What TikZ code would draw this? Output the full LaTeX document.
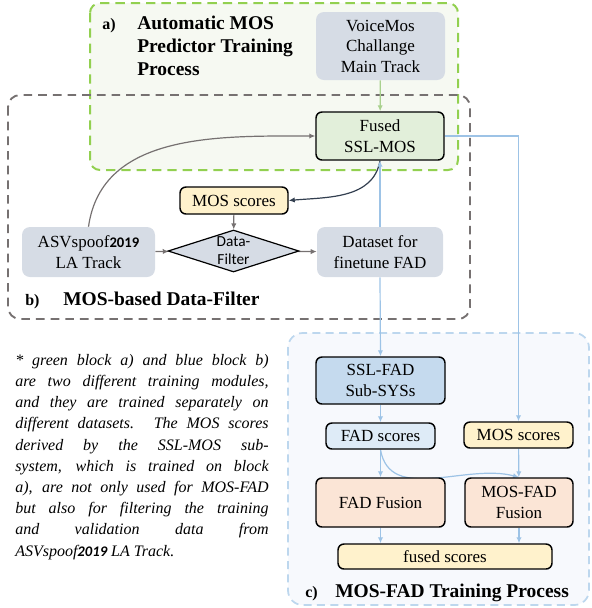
\documentclass[tikz,border=0pt]{standalone}
\usepackage{fontspec}
\setmainfont{Liberation Serif}
\newfontfamily\yearfont{Carlito}
\usetikzlibrary{shapes.geometric,arrows.meta}

\definecolor{greenline}{HTML}{92D050}
\definecolor{greenfill}{HTML}{F6F9F2}
\definecolor{greyline}{HTML}{767171}
\definecolor{blueline}{HTML}{BDD7EE}
\definecolor{bluefill}{HTML}{F7F9FD}
\definecolor{slate}{HTML}{D6DCE5}
\definecolor{mint}{HTML}{E2EFDA}
\definecolor{cream}{HTML}{FFF2CC}
\definecolor{sky}{HTML}{C5DAEE}
\definecolor{icy}{HTML}{DEEBF7}
\definecolor{peach}{HTML}{FBE5D6}
\definecolor{wireblue}{HTML}{9DC3E6}
\definecolor{wiregreen}{HTML}{A9D18E}
\definecolor{navy}{HTML}{333F50}

\pgfdeclarelayer{back}
\pgfdeclarelayer{wires}
\pgfsetlayers{back,wires,main}

\newcommand{\asvyear}{ASVspoof{\yearfont\bfseries\fontsize{11}{13}\selectfont 2019}}

\begin{document}
\begin{tikzpicture}[
    x = 0.75pt, y = -0.75pt,
    every node/.style = {inner sep = 0pt, align = center,
        font = \fontsize{12.75}{15.4}\selectfont},
    plain/.style = {fill = slate, rounded corners = 6pt},
    boxed/.style = {draw = black, line width = 1.1pt, rounded corners = 4.5pt},
    heading/.style = {align = left, font = \fontsize{14.6}{17}\selectfont\bfseries},
    tag/.style = {anchor = base west, font = \fontsize{12}{14}\selectfont\bfseries},
    wire/.style = {-{Latex[length = 4.5pt, width = 4pt]}, line width = 0.9pt}
]

\useasboundingbox (0,0) rectangle (592,608);

\begin{pgfonlayer}{back}
    \draw[greenline, fill = greenfill, line width = 1.5pt,
        dash pattern = on 7pt off 4.5pt, rounded corners = 7.5pt] (90,3) rectangle (458,170);
    \draw[greyline, line width = 1.4pt,
        dash pattern = on 6.5pt off 4.5pt, rounded corners = 9pt] (8,95) rectangle (470,319);
    \draw[blueline, fill = bluefill, line width = 1.3pt,
        dash pattern = on 6pt off 4pt, rounded corners = 11pt] (288,333) rectangle (589,605);
\end{pgfonlayer}

% a) training of the MOS predictor
\node[tag] (taga) at (102,29) {a)};
\node[heading, anchor = north west] (titlea) at (137,16) {Automatic MOS\\Predictor Training\\Process};
\node[plain, minimum width = 96.75pt, minimum height = 51pt] (voicemos) at (380.5,46)
    {VoiceMos\\Challange\\Main Track};
\node[boxed, fill = mint, minimum width = 96pt, minimum height = 36pt] (fusedmos) at (380,136)
    {Fused\\SSL-MOS};

% b) data filter
\node[boxed, fill = cream, minimum width = 81pt, minimum height = 20.25pt] (mosscores) at (234,200.5)
    {MOS scores};
\node[plain, minimum width = 99.75pt, minimum height = 37.5pt] (asvspoof) at (88.5,252)
    {\asvyear\\LA Track};
\node[diamond, draw = black, line width = 0.9pt, fill = slate, aspect = 3,
    minimum width = 98.25pt, minimum height = 31.5pt,
    font = \yearfont\fontsize{11.5}{13.5}\selectfont] (datafilter) at (233.5,251) {Data-\\Filter};
\node[plain, minimum width = 94.5pt, minimum height = 37.5pt] (finetune) at (380,252)
    {Dataset for\\finetune FAD};
\node[tag] (tagb) at (25,305) {b)};
\node[heading, anchor = base west] (titleb) at (63,305) {MOS-based Data-Filter};

% c) MOS-FAD training
\node[boxed, fill = sky, minimum width = 96.75pt, minimum height = 35.25pt] (sslfad) at (380.5,380.5)
    {SSL-FAD\\Sub-SYSs};
\node[boxed, fill = icy, minimum width = 81.75pt, minimum height = 19.5pt] (fadscores) at (380.5,436)
    {FAD scores};
\node[boxed, fill = cream, minimum width = 81.75pt, minimum height = 19.5pt] (mosscoresc) at (518.5,435)
    {MOS scores};
\node[boxed, fill = peach, minimum width = 96.75pt, minimum height = 36.75pt] (fadfusion) at (380.5,502.5)
    {FAD Fusion};
\node[boxed, fill = peach, minimum width = 81pt, minimum height = 36.75pt] (mosfadfusion) at (519,502.5)
    {MOS-FAD\\Fusion};
\node[boxed, fill = cream, minimum width = 160.5pt, minimum height = 18.75pt] (fusedscores) at (445,556.5)
    {fused scores};
\node[tag] (tagc) at (305,597) {c)};
\node[heading, anchor = base west] (titlec) at (335,597) {MOS-FAD Training Process};

% side note
\node[anchor = north west, text width = 190pt, align = justify,
    font = \itshape\fontsize{12}{15.9}\selectfont] (notes) at (15,354)
    {\tolerance = 9999 \hyphenpenalty = 10000
    * green block a) and blue block b)\linebreak
    are two different training modules,\linebreak
    and they are trained separately on\linebreak
    different datasets. The MOS scores\linebreak
    derived by the SSL-MOS sub-\linebreak
    system, which is trained on block\linebreak
    a), are not only used for MOS-FAD\linebreak
    but also for filtering the training\linebreak
    and validation data from\linebreak
    \asvyear{} LA Track.};

\begin{pgfonlayer}{wires}
    \draw[wire, wiregreen] (voicemos) -- (fusedmos);
    \draw[wire, greyline] (asvspoof.north) to[out = 82, in = 180] (fusedmos.west);
    \draw[wire, navy] (fusedmos.south) to[out = -100, in = 5] (mosscores.east);
    \draw[wire, greyline] (mosscores) -- (datafilter);
    \draw[wire, greyline] (asvspoof) -- (datafilter);
    \draw[wire, greyline] (datafilter) -- (finetune);
    \draw[wire, wireblue] (finetune.north) -- (fusedmos.south);
    \draw[wire, wireblue] (finetune.south) -- (sslfad.north);
    \draw[wire, wireblue] (fusedmos.east) -| (mosscoresc.north);
    \draw[wire, wireblue] (sslfad) -- (fadscores);
    \draw[wire, wireblue] (fadscores) -- (fadfusion);
    \draw[wire, wireblue] (fadscores.south) to[out = -80, in = 165] (mosfadfusion.north);
    \draw[wire, wireblue] (mosscoresc) -- (mosfadfusion);
    \draw[wire, wireblue] (fadfusion.south) -- (fadfusion.south |- fusedscores.north);
    \draw[wire, wireblue] (mosfadfusion.south) -- (mosfadfusion.south |- fusedscores.north);
\end{pgfonlayer}
\end{tikzpicture}
\end{document}
